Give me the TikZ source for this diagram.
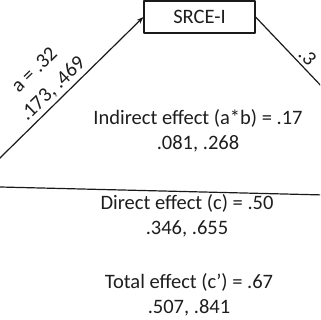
\documentclass[tikz,border=0pt]{standalone}
\usepackage{fontspec}
\setmainfont{Carlito}
\usetikzlibrary{arrows.meta}
\definecolor{LineBlack}{HTML}{1A1A1A}
\definecolor{TextDark}{HTML}{1E1E1E}

\begin{document}
\begin{tikzpicture}[
  x=1pt, y=-1pt,
  line cap=round, line join=round,
  >={Stealth[length=7pt,width=5pt]},
  link/.style={LineBlack, line width=1.2pt},
  effect/.style={text=TextDark, font=\fontsize{20.5}{25}\selectfont, align=center, inner sep=0pt},
  pathlab/.style={text=TextDark, font=\fontsize{20.5}{26}\selectfont, align=center, inner sep=0pt},
  varbox/.style={draw=LineBlack, line width=1.2pt, fill=white, minimum width=111pt,
    minimum height=32pt, inner sep=0pt, text=TextDark, font=\fontsize{20.5}{24}\selectfont}
]

% Frame (crop of the full model)
\useasboundingbox (0,0) rectangle (320,320);
\clip (0,0) rectangle (320,320);

% === Mediator ===
\node[varbox] (srce) at (199.5,17) {SRCE-I};

% Ends of the paths, outside the frame
\coordinate (predA) at (-20,177.6);
\coordinate (predC) at (-20,186.5);
\coordinate (outB) at (345,111);
\coordinate (outC) at (345,195.5);

% === Paths ===
\draw[link,->] (predA) -- (srce.west);
\draw[link] (srce.east) -- (outB);
\draw[link] (predC) -- (outC);

% Path labels
\node[pathlab, rotate=44.4] (alab) at (44,80) {a = .32\\.173, .469};
\node[pathlab, rotate=-46, anchor=west] (blab) at (302,51) {.3};

% === Effects ===
\foreach \nm/\xx/\yy/\txt in {
  ind/198/130.5/{Indirect effect (a*b) = .17\\.081, .268},
  dir/187/215.5/{Direct effect (c) = .50\\.346, .655},
  tot/189/295/{Total effect (c’) = .67\\.507, .841}%
}{
  \node[effect] (\nm) at (\xx,\yy) {\txt};
}

\end{tikzpicture}
\end{document}
